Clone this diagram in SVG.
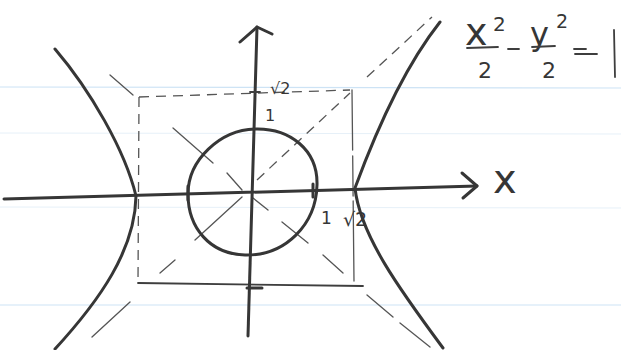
<svg xmlns="http://www.w3.org/2000/svg" width="621" height="350" viewBox="0 0 621 350">
<style>
.ink{fill:none;stroke:#363636;stroke-width:3;stroke-linecap:round;stroke-linejoin:round}
.mid{fill:none;stroke:#3e3e3e;stroke-width:1.8;stroke-linecap:round}
.thin{fill:none;stroke:#555;stroke-width:1.3;stroke-linecap:round}
.dash{fill:none;stroke:#555;stroke-width:1.3;stroke-dasharray:10 7}
.rule{stroke:#cde3f5;stroke-width:1.2}
.rule2{stroke:#e6f0f8;stroke-width:1}
.t{font-family:"DejaVu Sans",sans-serif;fill:#363636}
</style>
<rect width="621" height="350" fill="#fff"/>
<g id="paper">
<line class="rule" x1="0" y1="87" x2="621" y2="88"/>
<line class="rule2" x1="0" y1="133" x2="621" y2="134"/>
<line class="rule2" x1="0" y1="207" x2="621" y2="208"/>
<line class="rule" x1="0" y1="305" x2="621" y2="305"/>
</g>
<g id="box">
<path class="dash" d="M139,97 L350,90"/>
<path class="dash" d="M139,97 L138,283"/>
<path class="thin" d="M352,90 L354,282" stroke-dasharray="60 6 40 5 80"/>
<path class="mid" d="M138,283 L363,286"/>
</g>
<g id="asymptotes">
<path class="thin" d="M110,75 L133,95"/>
<path class="thin" d="M173,128 L213,163 M227,173 L242,190"/>
<path class="dash" d="M257,180 L350,93"/>
<path class="dash" d="M367,77 L432,17"/>
<path class="thin" d="M242,197 L195,240 M160,273 L175,260 M92,337 L130,302"/>
<path class="thin" d="M253,198 L268,210 M282,222 L308,243 M323,255 L343,273 M367,295 L393,317 M400,323 L430,347"/>
</g>
<g id="axes">
<path class="ink" d="M4,199 L477,186"/>
<path class="ink" d="M462,173 L477,186 L463,198"/>
<path class="ink" d="M248,336 L257,27"/>
<path class="ink" d="M240,42 L257,27 L272,34"/>
<path class="ink" d="M247,288 L262,288"/>
<path class="mid" d="M250,92 L260,92"/>
</g>
<g id="circle">
<path class="ink" d="M255,129 C290,128 318,150 317,185 C316,225 285,256 245,255 C210,254 188,228 188,194 C188,160 220,130 255,129 Z"/>
<path class="ink" d="M188,186 L188,200 M313,184 L313,197"/>
</g>
<g id="hyperbola">
<path class="ink" d="M440,22 C410,60 380,120 355,188 C360,235 400,290 443,348"/>
<path class="ink" d="M55,49 C90,90 125,150 136,196 C135,250 100,300 55,349"/>
</g>
<g id="labels">
<text class="t" x="270" y="94" font-size="16">√2</text>
<text class="t" x="265" y="121" font-size="16">1</text>
<text class="t" x="321" y="224" font-size="17">1</text>
<text class="t" x="343" y="226" font-size="19">√2</text>
<text class="t" x="493" y="193" font-size="40">x</text>
</g>
<g id="equation">
<text class="t" x="465" y="45" font-size="38">x</text>
<text class="t" x="493" y="31" font-size="20">2</text>
<line class="mid" x1="467" y1="48" x2="498" y2="47"/>
<text class="t" x="478" y="78" font-size="22">2</text>
<line class="mid" x1="508" y1="49" x2="519" y2="49"/>
<text class="t" x="530" y="45" font-size="32">y</text>
<text class="t" x="556" y="28" font-size="19">2</text>
<line class="mid" x1="532" y1="47" x2="555" y2="46"/>
<text class="t" x="542" y="78" font-size="22">2</text>
<line class="mid" x1="574" y1="49" x2="586" y2="49"/>
<line class="mid" x1="575" y1="54" x2="597" y2="54"/>
<line class="mid" x1="614" y1="30" x2="615" y2="77"/>
</g>
</svg>
